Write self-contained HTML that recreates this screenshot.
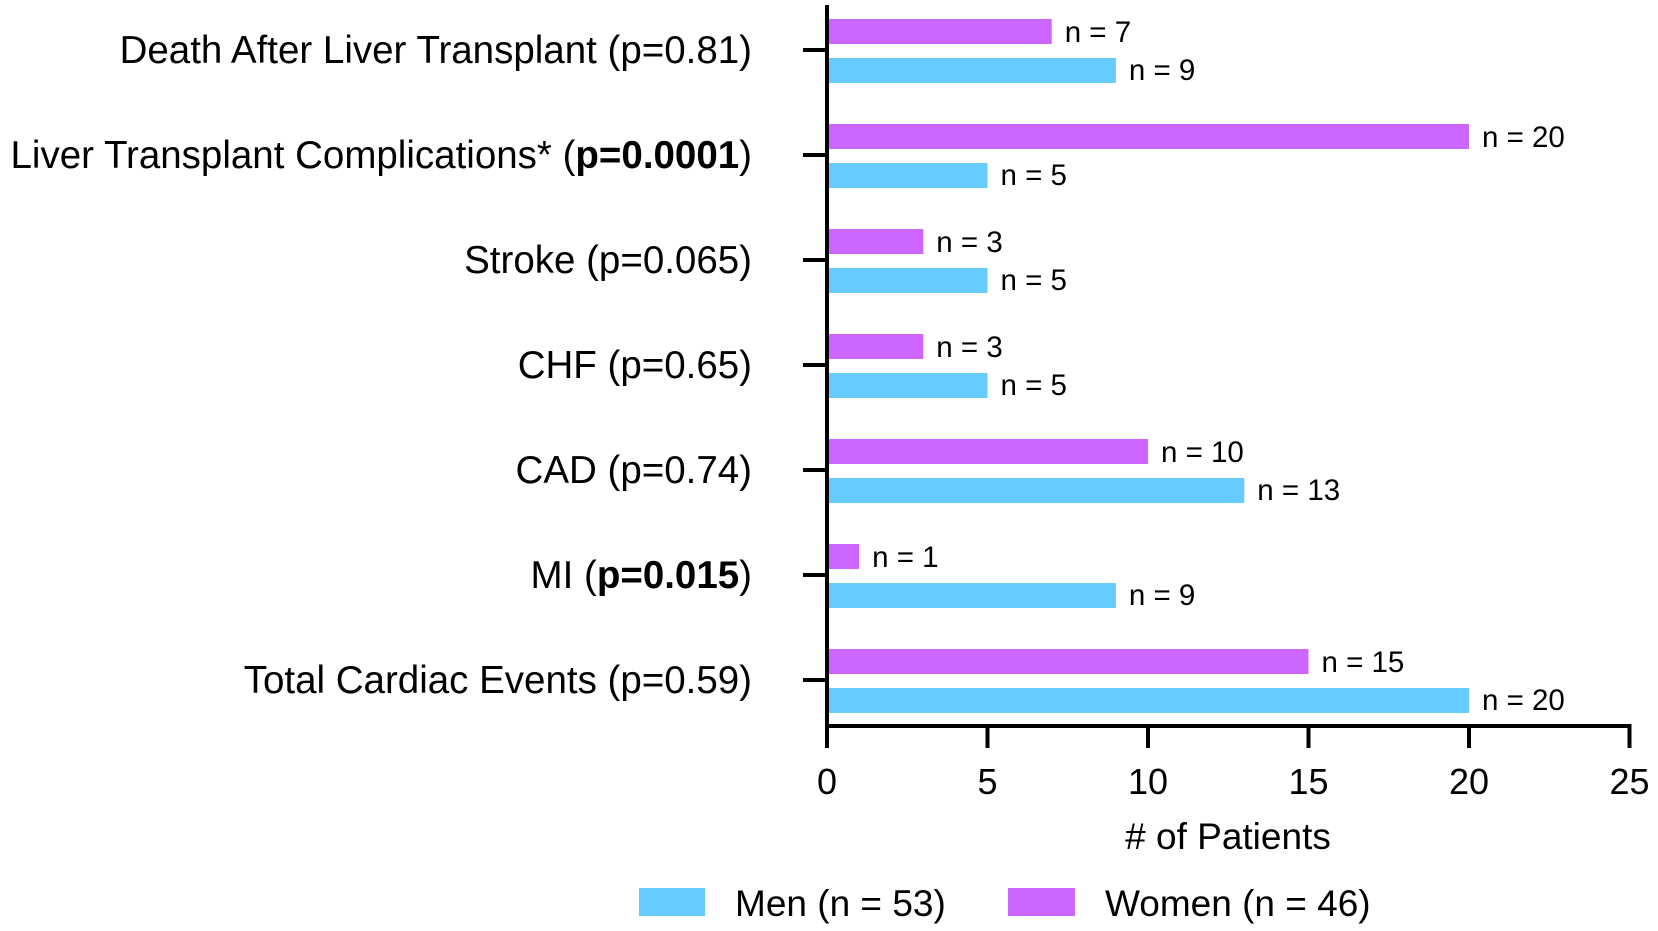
<!DOCTYPE html>
<html><head><meta charset="utf-8"><style>
body{margin:0;background:#fff;}
svg{display:block;font-family:"Liberation Sans",Arial,sans-serif;}
</style></head><body>
<svg id="chart" width="1658" height="931" viewBox="0 0 1658 931"></svg>
<script>
const categories = ["Death After Liver Transplant","Liver Transplant Complications*","Stroke","CHF","CAD","MI","Total Cardiac Events"];
const pValues = ["0.81","0.0001","0.065","0.65","0.74","0.015","0.59"];
const pBold = [false,true,false,false,false,true,false];
const womenValues = [7,20,3,3,10,1,15];
const menValues = [9,5,5,5,13,9,20];
const xTicks = [0,5,10,15,20,25];

const NS="http://www.w3.org/2000/svg";
const svg=document.getElementById('chart');
const x0=827, xMax=25, pxPerUnit=32.1;
const xs=v=>x0+v*pxPerUnit;
const catY=i=>50+i*105;
function el(t,a){const e=document.createElementNS(NS,t);for(const k in a)e.setAttribute(k,a[k]);svg.appendChild(e);return e;}

categories.forEach((c,i)=>{
  const cy=catY(i);
  const w=el('rect',{x:x0,y:cy-31,width:xs(womenValues[i])-x0,height:25,fill:'#CC66FF'});
  
  
  const m=el('rect',{x:x0,y:cy+8,width:xs(menValues[i])-x0,height:25,fill:'#66CCFF'});
  
  
  const wl=el('text',{x:xs(womenValues[i])+13,y:cy-8,'font-size':29.5,fill:'#000'});
  wl.textContent='n = '+womenValues[i];
  
  
  const ml=el('text',{x:xs(menValues[i])+13,y:cy+30,'font-size':29.5,fill:'#000'});
  ml.textContent='n = '+menValues[i];
  
  
  el('line',{x1:803,x2:827,y1:cy,y2:cy,stroke:'#000','stroke-width':4});
  const t=el('text',{x:752,y:cy+13,'font-size':38.5,'text-anchor':'end',fill:'#000'});
  
  
  const a=document.createElementNS(NS,'tspan');a.textContent=categories[i]+' (';t.appendChild(a);
  const b=document.createElementNS(NS,'tspan');b.textContent='p='+pValues[i];if(pBold[i])b.setAttribute('font-weight','bold');t.appendChild(b);
  const d=document.createElementNS(NS,'tspan');d.textContent=')';t.appendChild(d);
});
const ya=el('line',{x1:827,x2:827,y1:5,y2:728,stroke:'#000','stroke-width':4});

const xa=el('line',{x1:825,x2:xs(xMax)+2,y1:726,y2:726,stroke:'#000','stroke-width':4});

xTicks.forEach(v=>{
  el('line',{x1:xs(v),x2:xs(v),y1:726,y2:748,stroke:'#000','stroke-width':4});
  const t=el('text',{x:xs(v),y:794,'font-size':36,'text-anchor':'middle',fill:'#000'});
  t.textContent=v;
  
  
});
const xt=el('text',{x:1228,y:849,'font-size':37,'text-anchor':'middle',fill:'#000'});
xt.textContent='# of Patients';


const ls1=el('rect',{x:639,y:888,width:66,height:28,fill:'#66CCFF'});

const lt1=el('text',{x:735,y:916,'font-size':37,fill:'#000'});lt1.textContent='Men (n = 53)';

const ls2=el('rect',{x:1008,y:888,width:67,height:28,fill:'#CC66FF'});

const lt2=el('text',{x:1105,y:916,'font-size':37,fill:'#000'});lt2.textContent='Women (n = 46)';

</script>
</body></html>
